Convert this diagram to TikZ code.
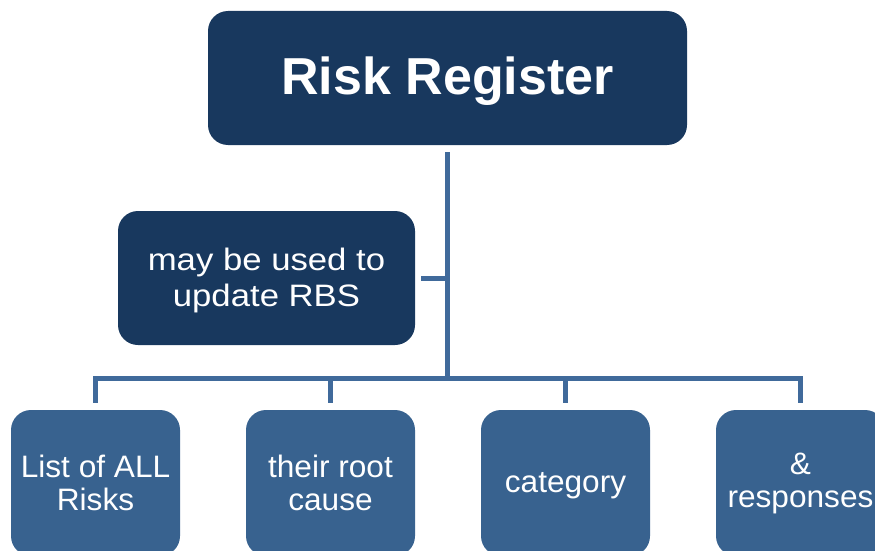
\documentclass[tikz,border=0pt]{standalone}
\usepackage{fontspec}
\setmainfont{Liberation Sans}
\newfontfamily\widefont[FakeStretch=1.12]{Liberation Sans}
\newfontfamily\lowfont[FakeStretch=1.02]{Liberation Sans}
\definecolor{navy}{HTML}{18385E}
\definecolor{boxblue}{HTML}{38628F}
\definecolor{linkblue}{HTML}{406A9B}
\begin{document}
\begin{tikzpicture}[x=1pt,y=-1pt,
  darkbox/.style={fill=navy,draw=none,rounded corners=20pt,inner sep=0pt,text=white,align=center},
  lowbox/.style={fill=boxblue,draw=none,rounded corners=20pt,inner sep=0pt,text=white,align=center,
    minimum width=169pt,minimum height=146pt,font=\lowfont\fontsize{31}{33}\selectfont},
  link/.style={draw=linkblue,line width=5pt}]
\useasboundingbox (0,0) rectangle (875,551);
\node[darkbox,minimum width=479pt,minimum height=134pt,font=\bfseries\fontsize{52}{60}\selectfont] (top) at (447.5,78) {\rule{0pt}{45pt}Risk Register};
\node[darkbox,minimum width=297pt,minimum height=134pt,font=\widefont\fontsize{31}{36}\selectfont] (side) at (266.5,278) {\rule{0pt}{27pt}may be used to\\update RBS};
\node[lowbox] (b1) at (95.5,483) {List of ALL\\Risks};
\node[lowbox] (b2) at (330.5,483) {their root\\cause};
\node[lowbox] (b3) at (565.5,483) {\rule{0pt}{26pt}category};
\node[lowbox] (b4) at (800.5,483) {\&\\responses};
\coordinate (bar) at (447.5,378);
\draw[link] ([yshift=-7pt]top.south) -- (bar);
\draw[link] ([xshift=6pt]side.east) -- (side.east -| bar);
\draw[link] ([yshift=7pt]b1.north) |- (bar) -| ([yshift=7pt]b4.north);
\draw[link] ([yshift=7pt]b2.north) -- (b2.north |- bar);
\draw[link] ([yshift=7pt]b3.north) -- (b3.north |- bar);
\end{tikzpicture}
\end{document}
